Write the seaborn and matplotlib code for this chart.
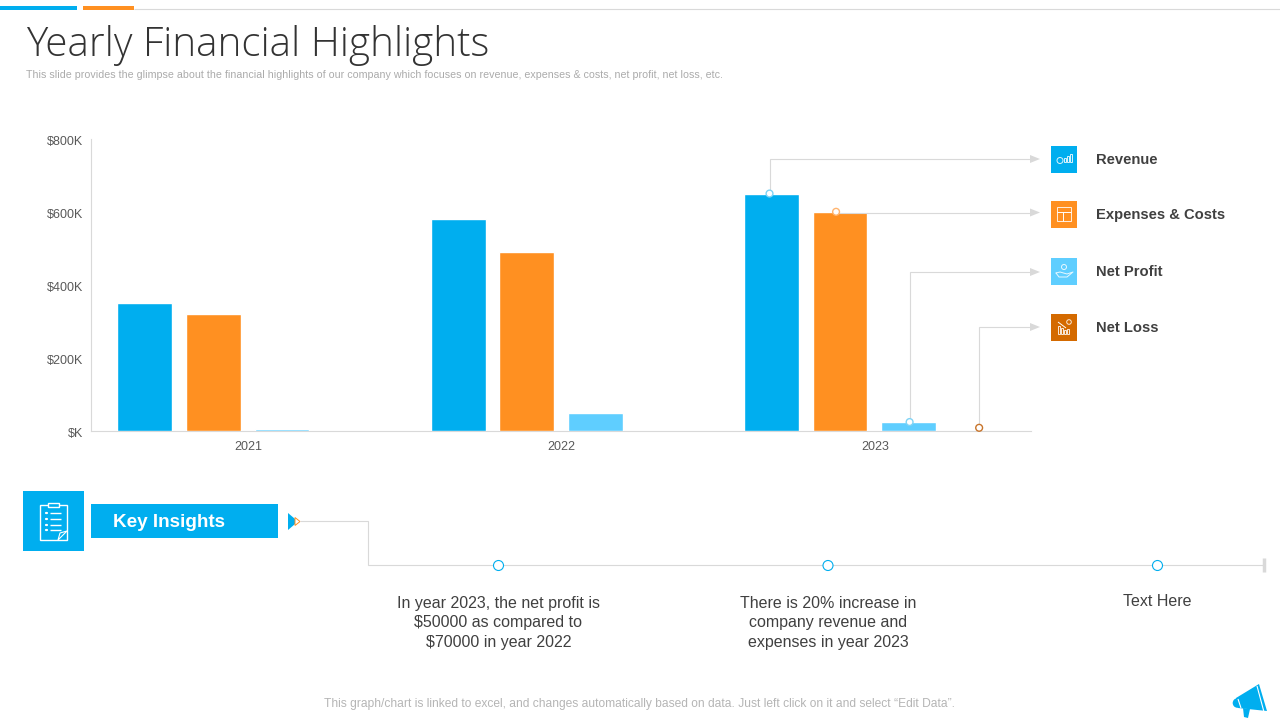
import pandas as pd
import seaborn as sns
import matplotlib.pyplot as plt
from matplotlib.patches import Rectangle, Polygon, Circle
from matplotlib.transforms import ScaledTranslation

# chart data, $K
years = ['2021', '2022', '2023']
series_names = ['Revenue', 'Expenses & Costs', 'Net Profit', 'Net Loss']
revenue = [350, 580, 650]
expenses = [320, 490, 600]
net_profit = [5, 50, 24]
net_loss = [0, 0, 0]
y_ticks = [0, 200, 400, 600, 800]
y_tick_labels = ['$K', '$200K', '$400K', '$600K', '$800K']

series_colors = ['#00AEEF', '#FF9021', '#5FCEFF', '#D46A00']

title = 'Yearly Financial Highlights'
subtitle = ('This slide provides the glimpse about the financial highlights of our company '
            'which focuses on revenue, expenses & costs, net profit, net loss, etc.')
footnote = ('This graph/chart is linked to excel, and changes automatically based on data. '
            'Just left click on it and select “Edit Data”.')
insights = ['In year 2023, the net profit is\n$50000 as compared to\n$70000 in year 2022',
            'There is 20% increase in\ncompany revenue and\nexpenses in year 2023',
            'Text Here']

LINE = '#D9D9D9'
TEXT = '#404040'
BLUE = series_colors[0]
ORANGE = series_colors[1]

sns.set_style('white')
plt.rcParams['font.family'] = ['Liberation Sans', 'DejaVu Sans']

df = pd.DataFrame({
    'year': years * 4,
    'series': [s for s in series_names for _ in years],
    'value': revenue + expenses + net_profit + net_loss,
})

fig = plt.figure(figsize=(12.8, 7.2), dpi=100)

# --- bars ---
ax = fig.add_axes([91.0 / 1280, 1 - 430.8 / 720, 940 / 1280, 292 / 720])
sns.barplot(data=df, x='year', y='value', hue='series', hue_order=series_names,
            palette=series_colors, saturation=1, width=0.875, gap=0.2,
            legend=False, ax=ax)
ax.set_ylim(0, 800)
ax.set_xlim(-0.5, 2.5)
ax.set_yticks(y_ticks, y_tick_labels)
ax.set_xlabel('')
ax.set_ylabel('')
ax.tick_params(axis='y', length=0, pad=5.6, labelsize=9, labelcolor='#595959')
ax.tick_params(axis='x', length=0, pad=7, labelsize=9, labelcolor='#595959')
# tick labels sit a little lower and right of where matplotlib puts them
for t in ax.get_yticklabels():
    t.set_transform(t.get_transform() + ScaledTranslation(0, -1.4 / 100, fig.dpi_scale_trans))
for t in ax.get_xticklabels():
    t.set_transform(t.get_transform() + ScaledTranslation(0.7 / 100, 0, fig.dpi_scale_trans))
sns.despine(ax=ax)
for side in ['left', 'bottom']:
    ax.spines[side].set_color(LINE)
    ax.spines[side].set_linewidth(0.8)
    ax.spines[side].set_zorder(0)

# --- overlay in pixel coordinates for the slide furniture ---
ann = fig.add_axes([0, 0, 1, 1], zorder=5)
ann.set_xlim(0, 1280)
ann.set_ylim(720, 0)
ann.axis('off')
ann.patch.set_alpha(0)


def bar_top_px(series_idx, year_idx):
    # where the top of a bar lands on the slide
    bar = ax.containers[series_idx][year_idx]
    disp = ax.transData.transform((bar.get_x() + bar.get_width() / 2, bar.get_height()))
    return ann.transData.inverted().transform(disp)


def box(x0, y0, x1, y1, color):
    ann.add_patch(Rectangle((x0, y0), x1 - x0, y1 - y0, fc=color, ec='none'))


def line(xs, ys, color=LINE, lw=0.8):
    ann.plot(xs, ys, color=color, lw=lw, solid_capstyle='butt', solid_joinstyle='miter')


# header
box(0, 6, 77, 9.5, BLUE)
box(83, 6, 134, 9.5, ORANGE)
line([134, 1280], [8.5, 8.5])
ann.text(26, 45, title, fontsize=29.1, color='#333333', family=['Open Sans', 'DejaVu Sans'],
         fontweight='light', va='center', ha='left')
ann.text(26, 74.5, subtitle, fontsize=7.64, color='#ABABAB', va='center', ha='left')

# legend column and the leader lines going to it
legend_y = [159.5, 214, 271, 327]
leader_y = [159, 212.5, 272, 327]
marker_dx = [-2, -4, 1, 2]
marker_dy = [0, 0, 0, -3]
marker_edge = ['#7FD3F5', '#FFB570', '#7FD3F5', '#C8742A']

for i, name in enumerate(series_names):
    px, py = bar_top_px(i, 2)
    mx, my = px + marker_dx[i], py + marker_dy[i]
    if abs(my - leader_y[i]) < 2:
        line([mx, 1031], [leader_y[i], leader_y[i]])
    else:
        line([mx, mx, 1031], [my, leader_y[i], leader_y[i]])
    ann.add_patch(Polygon([(1030, leader_y[i] - 4), (1040, leader_y[i]), (1030, leader_y[i] + 4)],
                          fc=LINE, ec='none'))
    ann.add_patch(Circle((mx, my), 3.4, fc='white', ec=marker_edge[i], lw=1, zorder=6))

    yc = legend_y[i]
    box(1051, yc - 13.5, 1077, yc + 13.5, series_colors[i])
    ann.text(1096, yc + 0.5, name, fontsize=10.6, fontweight='bold', color=TEXT, va='center', ha='left')

# small white icons in the legend squares
icon = dict(fc='none', ec='white', lw=0.7, alpha=0.85)
yc = legend_y[0]
ann.add_patch(Circle((1060, yc + 1), 3, **icon))
for k, h in enumerate([4, 6, 8]):
    ann.add_patch(Rectangle((1064 + k * 3, yc + 2 - h), 2, h, **icon))
yc = legend_y[1]
ann.add_patch(Rectangle((1057, yc - 7), 14, 14, **icon))
line([1057, 1071], [yc - 2, yc - 2], 'white', 0.7)
line([1063, 1063], [yc - 2, yc + 7], 'white', 0.7)
yc = legend_y[2]
ann.add_patch(Circle((1064, yc - 4), 2.5, **icon))
ann.plot([1056, 1060, 1067, 1073, 1067, 1059, 1056], [yc + 2, yc + 1, yc + 3, yc + 1, yc + 6, yc + 6, yc + 2],
         color='white', lw=0.7, alpha=0.85)
yc = legend_y[3]
ann.add_patch(Circle((1069, yc - 5), 2.3, **icon))
for k, h in enumerate([8, 6, 4, 5]):
    ann.add_patch(Rectangle((1058 + k * 3, yc + 7 - h), 1.8, h, **icon))
line([1058, 1066], [yc - 5, yc + 1], 'white', 0.7)

# key insights block
box(23, 491, 84, 551, BLUE)
board = dict(fc='none', ec='white', lw=1)
ann.add_patch(Rectangle((40, 505), 27, 35, **board))
ann.add_patch(Rectangle((48, 503), 11, 4, fc=BLUE, ec='white', lw=1))
for y in [513, 519, 524.5, 529.5]:
    ann.plot([46, 46.5], [y, y], color='white', lw=1.6)
    line([50, 61], [y, y], 'white', 1)
ann.add_patch(Polygon([(58, 540), (67, 531), (60, 533)], fc='none', ec='white', lw=0.8))

box(91, 504, 278, 538, BLUE)
ann.text(113, 522.5, 'Key Insights', fontsize=13.6, fontweight='bold', color='white',
         va='center', ha='left')
ann.add_patch(Polygon([(288, 513), (298, 521.5), (288, 530)], fc=BLUE, ec='none'))
ann.add_patch(Polygon([(295, 517.5), (300, 521.5), (295, 525.5)], fc='white', ec=ORANGE, lw=0.7))

line([300, 367.5, 367.5, 1263], [521, 521, 565, 565])
line([1264, 1264], [558, 572], '#D9D9D9', 2.5)
for x, txt, y in zip([498.5, 828, 1157.5], insights, [596, 596, 594]):
    ann.add_patch(Circle((x, 565.5), 5, fc='white', ec=BLUE, lw=0.8, zorder=6))
    ann.text(x, y, txt, fontsize=11.55, color=TEXT, va='top', ha='center', linespacing=1.36)

ann.text(639, 704, footnote, fontsize=8.65, color='#B5B5B5', va='center', ha='center')

# megaphone, bottom right
ann.add_patch(Polygon([(1236, 698), (1259, 684), (1267, 711), (1238, 708)], fc=BLUE, ec='none'))
ann.add_patch(Circle((1237.5, 703), 4.8, fc=BLUE, ec='none'))
ann.add_patch(Polygon([(1243, 708), (1250, 709), (1248, 718), (1244, 717)], fc=BLUE, ec='none'))
line([1238, 1241], [699, 708], 'white', 0.8)
line([1257, 1264], [686, 712], 'white', 0.8)

fig.savefig('out.png', dpi=100)
